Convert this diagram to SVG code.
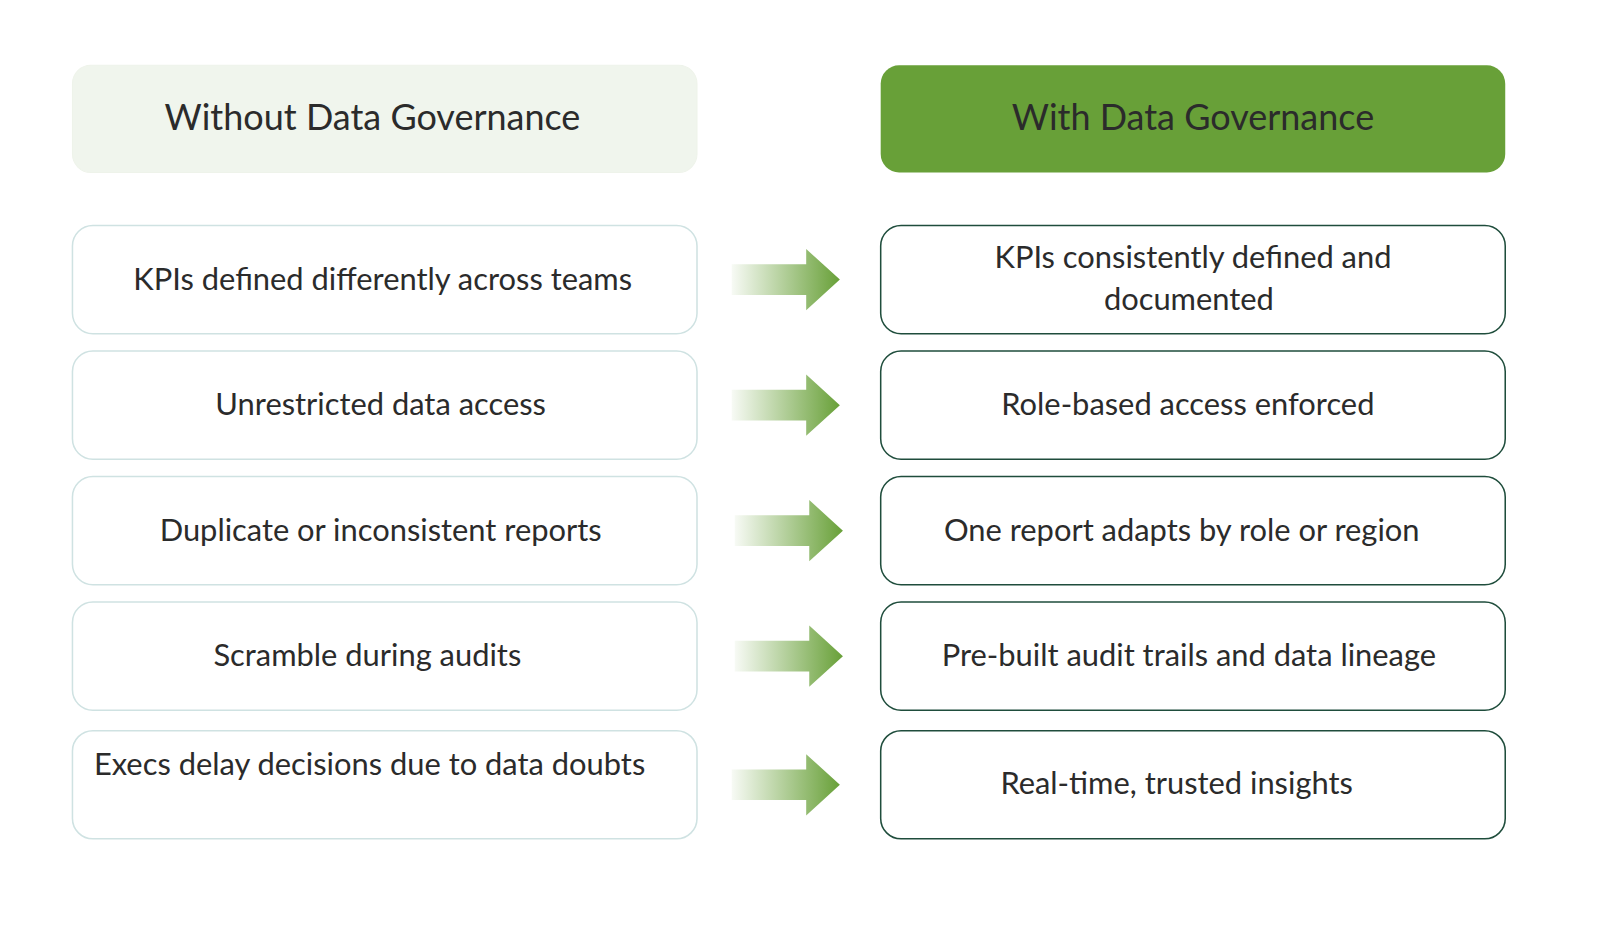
<svg xmlns="http://www.w3.org/2000/svg" width="1600" height="933" viewBox="0 0 1600 933">
<defs>
<linearGradient id="ag" x1="0" y1="0" x2="1" y2="0">
<stop offset="0" stop-color="#68a038" stop-opacity="0.05"/>
<stop offset="1" stop-color="#68a038"/>
</linearGradient>
<symbol id="arr" overflow="visible"><polygon points="0,-15 73,-15 73,-30 106,0 73,30 73,15 0,15" fill="url(#ag)"/></symbol>
</defs>
<style>
text{font-family:Lato,"Open Sans",sans-serif;fill:#2b2b2b;font-size:30.25px;text-anchor:middle}
.l{fill:#fff;stroke:#cfe2e2;stroke-width:1.5}
.r{fill:#fff;stroke:#1f4d3c;stroke-width:1.5}
.h{font-size:35.25px}
</style>
<rect width="1600" height="933" fill="#fff"/>
<g transform="scale(1.0205)">
<g id="hdr-left"><rect x="71" y="64" width="612" height="105" rx="18" fill="#f0f5ed" stroke="#eef3ea"/><text class="h" x="365" y="127">Without Data Governance</text></g>
<g id="hdr-right"><rect x="863" y="64" width="612" height="105" rx="18" fill="#68a038"/><text class="h" x="1169" y="127">With Data Governance</text></g>
<g id="l1"><rect class="l" x="71" y="221" width="612" height="106" rx="20"/><text x="375" y="284">KPIs defined differently across teams</text></g>
<g id="l2"><rect class="l" x="71" y="344" width="612" height="106" rx="20"/><text x="373" y="407">Unrestricted data access</text></g>
<g id="l3"><rect class="l" x="71" y="467" width="612" height="106" rx="20"/><text x="373" y="530">Duplicate or inconsistent reports</text></g>
<g id="l4"><rect class="l" x="71" y="590" width="612" height="106" rx="20"/><text x="360" y="653">Scramble during audits</text></g>
<g id="l5"><rect class="l" x="71" y="716" width="612" height="106" rx="20"/><text x="92" y="759" style="text-anchor:start">Execs delay decisions due to data doubts</text></g>
<g id="r1"><rect class="r" x="863" y="221" width="612" height="106" rx="20"/><text x="1169" y="263">KPIs consistently defined and</text><text x="1165" y="304">documented</text></g>
<g id="r2"><rect class="r" x="863" y="344" width="612" height="106" rx="20"/><text x="1164" y="407">Role-based access enforced</text></g>
<g id="r3"><rect class="r" x="863" y="467" width="612" height="106" rx="20"/><text x="1158" y="530">One report adapts by role or region</text></g>
<g id="r4"><rect class="r" x="863" y="590" width="612" height="106" rx="20"/><text x="1165" y="653">Pre-built audit trails and data lineage</text></g>
<g id="r5"><rect class="r" x="863" y="716" width="612" height="106" rx="20"/><text x="1153" y="778">Real-time, trusted insights</text></g>
<g id="connectors">
<use href="#arr" x="717" y="274"/>
<use href="#arr" x="717" y="397"/>
<use href="#arr" x="720" y="520"/>
<use href="#arr" x="720" y="643"/>
<use href="#arr" x="717" y="769"/>
</g>
</g>
</svg>
